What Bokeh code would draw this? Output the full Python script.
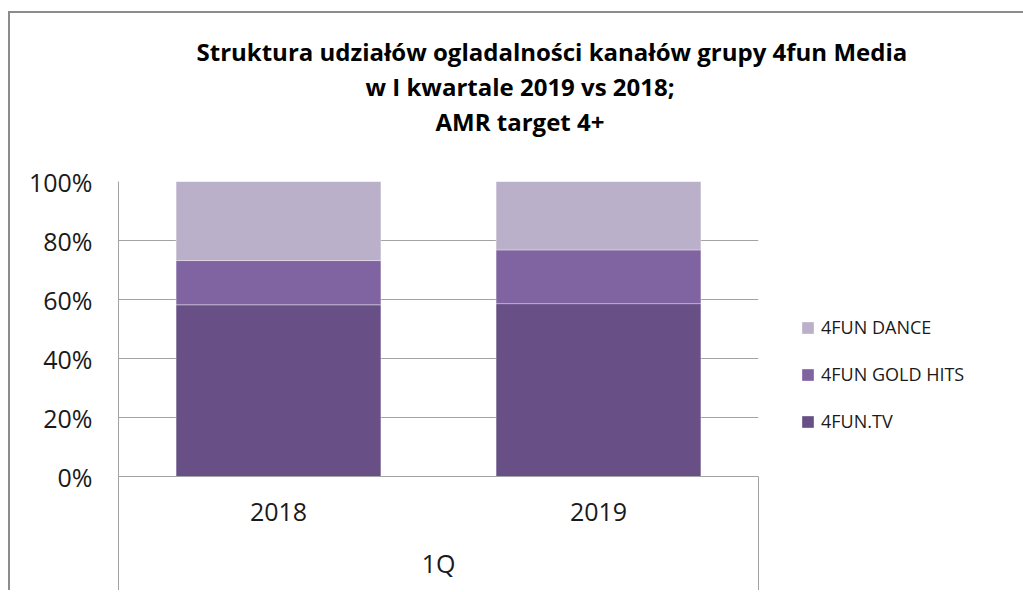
from bokeh.plotting import figure
from bokeh.models import (FactorRange, Range1d, FixedTicker, NumeralTickFormatter,
                          Legend, LegendItem, Title, CategoricalAxis, LinearAxis,
                          ColumnDataSource, ColorBar, LinearColorMapper)
from bokeh.embed import file_html
from bokeh.resources import INLINE

# ---- data ----
years = ["2018", "2019"]
group_label = "1Q"
series_keys = ["tv", "gold", "dance"]
series_names = ["4FUN.TV", "4FUN GOLD HITS", "4FUN DANCE"]
tv = [0.582, 0.586]
gold = [0.150, 0.182]
dance = [0.268, 0.232]
y_ticks = [0.0, 0.2, 0.4, 0.6, 0.8, 1.0]
title_lines = ["Struktura udziałów ogladalności kanałów grupy 4fun Media",
               "w I kwartale 2019 vs 2018;",
               "AMR target 4+"]

# ---- style ----
colors = ["#685086", "#8064A2", "#BAB0C9"]
FONT = "Open Sans"
GRAY = "#a3a3a3"
TXT = "#1a1a1a"

source = ColumnDataSource(data=dict(year=years, tv=tv, gold=gold, dance=dance))

p = figure(x_range=FactorRange(*years, range_padding=0), y_range=Range1d(0, 1),
           frame_width=640, frame_height=295,
           min_border_left=108, min_border_right=263, min_border_top=168,
           min_border_bottom=114,
           x_axis_location=None,
           output_backend="svg", toolbar_location=None)
p.styles = {"border-top": "2px solid #8c8c8c", "border-left": "2px solid #8c8c8c",
            "margin-top": "11px", "margin-left": "8px"}
p.outline_line_color = None
p.background_fill_color = "white"
p.border_fill_color = "white"

renderers = p.vbar_stack(series_keys, x="year", width=0.64, color=colors,
                         line_color="white", line_alpha=0.35, line_width=1,
                         source=source)

cat_axis = CategoricalAxis(axis_label=group_label,
                           axis_line_color=GRAY, axis_line_width=1,
                           major_tick_out=0, major_tick_in=0,
                           major_label_standoff=26, axis_label_standoff=22,
                           major_label_text_font=FONT, major_label_text_font_size="25px",
                           major_label_text_color=TXT,
                           axis_label_text_font=FONT, axis_label_text_font_size="25px",
                           axis_label_text_font_style="normal",
                           axis_label_text_color=TXT)
p.add_layout(cat_axis, "below")

# boundary lines of the category band: minor ticks at the outer edges of the
# factor range (synthetic coordinates 0 and number of categories), no labels
edge_axis = LinearAxis(ticker=FixedTicker(ticks=[], minor_ticks=[0, len(years)]),
                       axis_line_color=None,
                       major_tick_out=0, major_tick_in=0,
                       minor_tick_in=106, minor_tick_out=8,
                       minor_tick_line_color=GRAY, minor_tick_line_width=1,
                       major_label_standoff=0)
p.add_layout(edge_axis, "below")

yt = FixedTicker(ticks=y_ticks, minor_ticks=[])
p.yaxis.ticker = yt
p.ygrid.ticker = yt
p.yaxis.formatter = NumeralTickFormatter(format="0%")
p.yaxis.axis_line_color = GRAY
p.yaxis.major_tick_out = 0
p.yaxis.major_tick_in = 0
p.yaxis.minor_tick_line_color = None
p.yaxis.major_label_standoff = 26
p.yaxis.major_label_text_font = FONT
p.yaxis.major_label_text_font_size = "25px"
p.yaxis.major_label_text_color = TXT
p.ygrid.grid_line_color = GRAY
p.ygrid.grid_line_width = 1
p.xgrid.grid_line_color = None

items = [LegendItem(label=series_names[i], renderers=[renderers[i]])
         for i in reversed(range(len(series_names)))]
legend = Legend(items=items, location=(42, 43), orientation="vertical",
                glyph_width=15, glyph_height=15, label_height=15,
                label_standoff=6, spacing=23, padding=0, margin=0,
                border_line_color=None, background_fill_alpha=0,
                label_text_font=FONT, label_text_font_size="18px",
                label_text_color=TXT)
p.add_layout(legend, "right")

# blank gap between plot area and title: a fully transparent, tick-less bar
spacer = ColorBar(color_mapper=LinearColorMapper(palette=["#ffffff"], low=0, high=1),
                  ticker=FixedTicker(ticks=[], minor_ticks=[]),
                  orientation="horizontal", width=10, height=44,
                  padding=0, margin=0, scale_alpha=0,
                  bar_line_color=None, border_line_color=None,
                  background_fill_color=None,
                  major_tick_line_color=None, minor_tick_line_color=None)
p.add_layout(spacer, "above")

title_offsets = [78, 247, 317]
for line, off in reversed(list(zip(title_lines, title_offsets))):
    p.add_layout(Title(text=line, align="left", offset=off, standoff=0,
                       text_font=FONT, text_font_style="bold",
                       text_font_size="24px", text_color="black"), "above")

open("out.html", "w").write(file_html(p, INLINE))
